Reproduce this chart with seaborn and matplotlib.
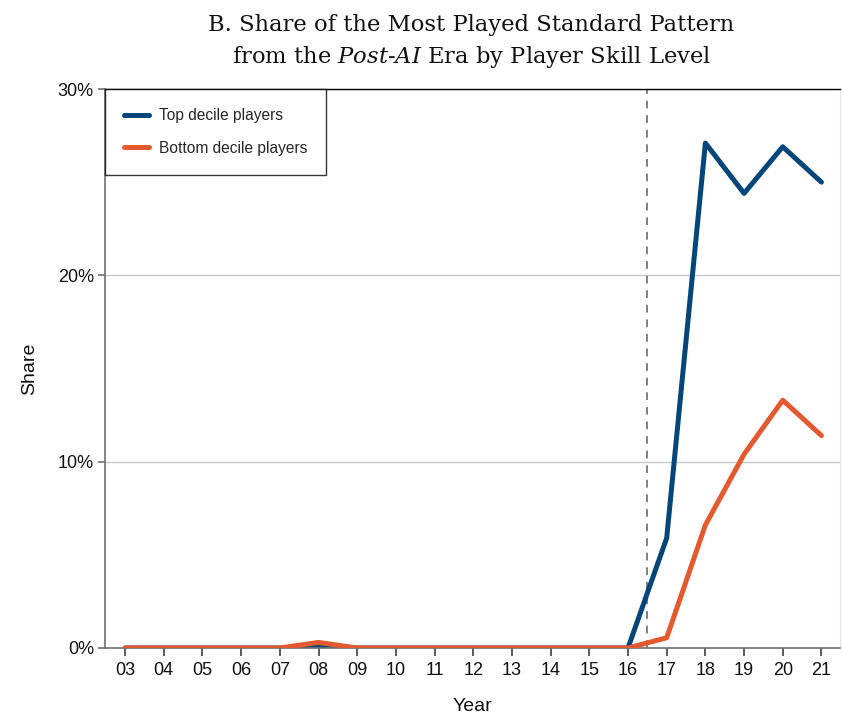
import matplotlib
matplotlib.use("Agg")
import matplotlib.pyplot as plt
import seaborn as sns
import pandas as pd
from matplotlib.ticker import FuncFormatter

years = ["03", "04", "05", "06", "07", "08", "09", "10", "11", "12",
         "13", "14", "15", "16", "17", "18", "19", "20", "21"]
top_decile = [0, 0, 0, 0, 0, 0.05, 0, 0, 0, 0,
              0, 0, 0, 0, 5.9, 27.1, 24.4, 26.9, 25.0]
bottom_decile = [0, 0, 0, 0, 0, 0.3, 0, 0, 0, 0,
                 0, 0, 0, 0, 0.55, 6.6, 10.4, 13.3, 11.4]
series_names = ["Top decile players", "Bottom decile players"]
y_ticks = [0, 10, 20, 30]

rows = []
for name, vals in zip(series_names, [top_decile, bottom_decile]):
    for i, (yr, v) in enumerate(zip(years, vals)):
        rows.append({"pos": i, "Year": yr, "Share": v, "Group": name})
df = pd.DataFrame(rows)

sns.set_theme(style="white")
plt.rcParams["font.family"] = ["Liberation Sans", "DejaVu Sans"]
plt.rcParams["mathtext.fontset"] = "custom"
plt.rcParams["mathtext.it"] = "DejaVu Serif:italic"
plt.rcParams["mathtext.rm"] = "DejaVu Serif"

fig = plt.figure(figsize=(8.43, 7.15), dpi=100)
ax = fig.add_axes([105 / 843, 1 - 648 / 715, 735 / 843, 559 / 715])

palette = {"Top decile players": "#03467A", "Bottom decile players": "#E35A30"}
sns.lineplot(data=df, x="pos", y="Share", hue="Group", palette=palette,
             hue_order=series_names, linewidth=3.6, ax=ax, legend=True)
lines = ax.get_lines()
lines[1].set_zorder(lines[0].get_zorder() + 1)

ax.axvline(13.5, color="#808080", linestyle=(0, (4, 3.5)), linewidth=1.4, zorder=1)

ax.set_xlim(-0.52, 18.48)
ax.set_ylim(0, 30)
ax.set_xticks(range(len(years)))
ax.set_xticklabels(years)
ax.set_yticks(y_ticks)
ax.yaxis.set_major_formatter(FuncFormatter(lambda v, p: f"{int(v)}%"))
ax.grid(axis="y", color="#c8c8c8", linewidth=1)
ax.grid(axis="x", visible=False)

for s in ["left", "bottom"]:
    ax.spines[s].set_color("#707070")
    ax.spines[s].set_linewidth(1.2)
ax.spines["top"].set_color("#000000")
ax.spines["top"].set_linewidth(1.0)
ax.spines["right"].set_color("#e6e6e6")
ax.spines["right"].set_linewidth(0.8)

ax.tick_params(axis="x", length=6, width=1.2, color="#404040", labelsize=13,
               labelcolor="#111111", pad=4, bottom=True)
ax.tick_params(axis="y", length=5, width=1.2, color="#707070", labelsize=13,
               labelcolor="#111111", pad=3, left=True)

ax.set_xlabel("Year", fontsize=14, color="#111111", labelpad=14)
ax.set_ylabel("Share", fontsize=14, color="#111111", labelpad=14)

leg = ax.legend(loc="upper left", bbox_to_anchor=(0, 1), borderaxespad=0,
                frameon=True, fancybox=False, edgecolor="black",
                fontsize=11.2, handlelength=1.55, handletextpad=0.65,
                labelspacing=1.12, borderpad=1.25, title=None)
leg.get_frame().set_linewidth(1.0)
for h in leg.get_lines():
    h.set_linewidth(3.6)

fig.text(0.559, 0.981,
         "B. Share of the Most Played Standard Pattern\nfrom the $\\it{Post}$-$\\it{AI}$ Era by Player Skill Level",
         ha="center", va="top", fontsize=16.3, family=["DejaVu Serif"],
         color="#111111", linespacing=1.45)

fig.savefig("out.png", dpi=100)
